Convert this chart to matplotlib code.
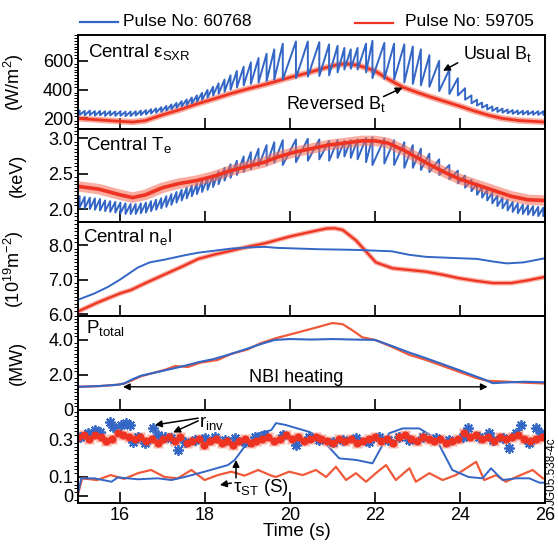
import numpy as np
import matplotlib
matplotlib.use('Agg')
import matplotlib.pyplot as plt
from matplotlib.lines import Line2D
from matplotlib.ticker import MultipleLocator

plt.rcParams['font.family'] = ['Liberation Sans', 'DejaVu Sans']
plt.rcParams['mathtext.default'] = 'regular'

BLUE = '#3466c6'
RED = '#ee3322'
HALO = '#f36a52'

# ---- sawtooth crash times (pulse 60768, usual Bt) ----
crash_t = [15.05, 15.17, 15.29, 15.41, 15.53, 15.65, 15.77, 15.89, 16.01, 16.13,
           16.25, 16.37, 16.49, 16.61, 16.73, 16.85, 16.97, 17.09, 17.21, 17.33,
           17.45, 17.57, 17.69, 17.81, 17.93, 18.06, 18.19, 18.32, 18.46, 18.60,
           18.75, 18.91, 19.08, 19.26, 19.45, 19.63, 19.83, 20.14, 20.42, 20.69,
           20.92, 21.12, 21.28, 21.43, 21.59, 21.79, 21.94, 22.22, 22.45, 22.69,
           22.89, 23.08, 23.28, 23.51, 23.75, 23.95, 24.12, 24.27, 24.40, 24.52,
           24.64, 24.76, 24.88, 25.00, 25.12, 25.24, 25.36, 25.48, 25.60, 25.72,
           25.84, 25.96]

# central SXR emissivity, blue: value before / after each crash
sxr_peak = [255, 252, 254, 250, 252, 249, 251, 248, 250, 247,
            248, 250, 254, 258, 264, 270, 278, 287, 297, 308,
            320, 332, 345, 360, 378, 398, 420, 444, 470, 500,
            530, 560, 590, 620, 650, 680, 720, 735, 735, 730,
            715, 705, 690, 680, 690, 720, 740, 725, 720, 715,
            700, 680, 640, 600, 540, 480, 410, 360, 330, 310,
            295, 283, 275, 268, 262, 258, 255, 253, 252, 250,
            250, 250]
sxr_trough = [225, 222, 224, 220, 222, 218, 221, 218, 218, 216,
              217, 220, 224, 228, 234, 240, 246, 255, 264, 274,
              284, 294, 305, 317, 330, 345, 360, 372, 385, 400,
              415, 430, 440, 450, 460, 470, 470, 480, 490, 495,
              500, 520, 540, 545, 540, 520, 480, 475, 470, 450,
              440, 430, 420, 390, 370, 360, 330, 305, 290, 275,
              262, 252, 245, 240, 236, 232, 230, 228, 227, 226,
              225, 225]

# SXR, red (pulse 59705, reversed Bt)
sxr_red_t = [15.0, 15.5, 16.0, 16.3, 16.6, 17.0, 17.4, 17.8, 18.2, 18.6, 19.0, 19.4,
             19.7, 20.0, 20.4, 20.8, 21.1, 21.3, 21.6, 22.0, 22.3, 22.65, 23.0, 23.3,
             23.6, 24.0, 24.3, 24.7, 25.0, 25.4, 26.0]
sxr_red = [200, 190, 180, 175, 185, 225, 260, 300, 335, 372, 405, 435,
           460, 485, 515, 550, 572, 580, 570, 530, 475, 418, 380, 350,
           322, 285, 255, 220, 200, 185, 175]

# central Te, blue: before / after each crash
te_peak = [2.18, 2.17, 2.16, 2.15, 2.14, 2.12, 2.11, 2.10, 2.09, 2.08,
           2.07, 2.07, 2.08, 2.09, 2.11, 2.13, 2.15, 2.18, 2.21, 2.24,
           2.27, 2.30, 2.33, 2.36, 2.40, 2.44, 2.48, 2.53, 2.58, 2.63,
           2.68, 2.74, 2.80, 2.85, 2.90, 2.94, 2.97, 2.98, 2.99, 2.98,
           2.96, 2.97, 2.96, 2.97, 2.98, 3.00, 3.01, 2.99, 2.97, 2.94,
           2.90, 2.85, 2.78, 2.70, 2.62, 2.54, 2.47, 2.41, 2.36, 2.31,
           2.27, 2.23, 2.19, 2.16, 2.13, 2.10, 2.08, 2.06, 2.05, 2.04,
           2.03, 2.02]
te_trough = [2.02, 2.01, 2.00, 1.99, 1.98, 1.97, 1.96, 1.95, 1.94, 1.93,
             1.93, 1.93, 1.94, 1.95, 1.97, 1.99, 2.01, 2.03, 2.06, 2.09,
             2.12, 2.15, 2.18, 2.21, 2.24, 2.27, 2.31, 2.35, 2.40, 2.44,
             2.48, 2.52, 2.56, 2.60, 2.62, 2.65, 2.62, 2.66, 2.68, 2.70,
             2.68, 2.72, 2.74, 2.72, 2.70, 2.66, 2.62, 2.64, 2.62, 2.58,
             2.58, 2.55, 2.52, 2.48, 2.42, 2.36, 2.30, 2.25, 2.20, 2.16,
             2.12, 2.08, 2.04, 2.01, 1.98, 1.96, 1.94, 1.93, 1.92, 1.91,
             1.90, 1.90]

te_red_t = [15.0, 15.5, 16.0, 16.3, 16.6, 17.0, 17.4, 17.8, 18.2, 18.6, 19.0, 19.4,
            19.7, 20.1, 20.5, 20.9, 21.3, 21.7, 22.0, 22.3, 22.7, 23.0, 23.3, 23.7,
            24.0, 24.4, 24.8, 25.2, 25.6, 26.0]
te_red = [2.32, 2.28, 2.20, 2.16, 2.20, 2.30, 2.36, 2.40, 2.46, 2.54, 2.60, 2.66,
          2.73, 2.80, 2.85, 2.90, 2.93, 2.96, 2.96, 2.93, 2.82, 2.72, 2.62, 2.50,
          2.42, 2.34, 2.26, 2.18, 2.13, 2.12]

# line integrated density
ne_blue_t = [15.0, 15.4, 15.72, 16.0, 16.42, 16.7, 17.05, 17.5, 17.84, 18.3, 18.62,
             19.0, 19.4, 19.7, 20.2, 20.7, 21.2, 21.6, 22.0, 22.4, 22.8, 23.2, 23.6,
             24.0, 24.4, 24.8, 25.1, 25.5, 26.0]
ne_blue = [6.41, 6.60, 6.79, 7.00, 7.35, 7.50, 7.58, 7.70, 7.78, 7.85, 7.90,
           7.93, 7.95, 7.92, 7.90, 7.88, 7.87, 7.86, 7.84, 7.82, 7.72, 7.66, 7.64,
           7.62, 7.60, 7.52, 7.47, 7.50, 7.62]
ne_red_t = [15.0, 15.5, 16.0, 16.26, 16.6, 17.05, 17.5, 17.84, 18.2, 18.62, 19.0,
            19.4, 19.67, 20.0, 20.4, 20.85, 21.05, 21.24, 21.55, 21.8, 22.02, 22.41,
            22.8, 23.2, 23.6, 23.98, 24.4, 24.77, 25.2, 25.6, 26.0]
ne_red = [6.07, 6.35, 6.60, 6.70, 6.90, 7.15, 7.40, 7.60, 7.72, 7.84, 7.95,
          8.05, 8.14, 8.25, 8.36, 8.48, 8.49, 8.44, 8.14, 7.80, 7.50, 7.33,
          7.28, 7.23, 7.14, 7.04, 6.96, 6.90, 6.90, 6.98, 7.08]

# total heating power
p_blue_t = [15.0, 15.5, 15.95, 16.1, 16.3, 16.5, 17.05, 17.5, 17.84, 18.2, 18.62,
            19.0, 19.3, 19.64, 20.0, 20.5, 21.0, 21.5, 22.0, 22.4, 22.8, 23.2, 23.6,
            24.0, 24.38, 24.6, 24.77, 25.0, 25.5, 26.0]
p_blue = [1.31, 1.35, 1.43, 1.50, 1.75, 1.95, 2.25, 2.50, 2.72, 2.90, 3.20,
          3.50, 3.75, 4.00, 4.05, 4.02, 4.05, 4.02, 4.00, 3.65, 3.28, 2.95, 2.60,
          2.25, 1.90, 1.70, 1.52, 1.55, 1.60, 1.57]
p_red_t = [15.0, 15.5, 15.95, 16.1, 16.3, 16.5, 17.05, 17.3, 17.6, 17.9, 18.3, 18.62,
           19.0, 19.3, 19.67, 20.14, 20.6, 21.0, 21.24, 21.5, 21.7, 22.0, 22.4, 22.8,
           23.2, 23.6, 24.0, 24.38, 24.65, 25.0, 25.5, 26.0]
p_red = [1.31, 1.35, 1.43, 1.50, 1.70, 1.92, 2.28, 2.50, 2.45, 2.70, 2.85, 3.20,
         3.45, 3.80, 4.10, 4.40, 4.70, 4.97, 4.90, 4.50, 4.15, 4.00, 3.60, 3.15,
         2.85, 2.50, 2.15, 1.82, 1.65, 1.62, 1.55, 1.50]

# inversion radius
rinv_blue_t = [15.05, 15.25, 15.40, 15.52, 15.76, 15.84, 16.03, 16.15, 16.23, 16.31,
               16.42, 16.58, 16.78, 16.89, 17.05, 17.21, 17.36, 17.52, 17.76, 17.99,
               18.23, 18.46, 18.70, 18.93, 19.17, 19.40, 19.83, 20.14, 20.45, 20.69,
               21.00, 21.24, 21.55, 21.87, 22.10, 22.30, 22.57, 22.81, 23.12, 23.43,
               23.75, 24.06, 24.18, 24.45, 24.69, 24.77, 25.00, 25.16, 25.32, 25.43,
               25.63, 25.79, 25.90]
rinv_blue = [0.312, 0.330, 0.347, 0.338, 0.391, 0.365, 0.374, 0.383, 0.374, 0.286,
             0.312, 0.277, 0.356, 0.321, 0.312, 0.304, 0.242, 0.286, 0.295, 0.304,
             0.312, 0.295, 0.304, 0.286, 0.312, 0.321, 0.321, 0.268, 0.312, 0.295,
             0.286, 0.295, 0.304, 0.286, 0.312, 0.295, 0.312, 0.295, 0.312, 0.304,
             0.295, 0.312, 0.356, 0.312, 0.330, 0.295, 0.304, 0.251, 0.330, 0.374,
             0.277, 0.356, 0.330]
rinv_red_t = [15.02, 15.15, 15.28, 15.40, 15.55, 15.68, 15.80, 15.95, 16.08, 16.20,
              16.35, 16.48, 16.62, 16.75, 16.90, 17.02, 17.15, 17.30, 17.42, 17.58,
              17.70, 17.85, 17.98, 18.12, 18.25, 18.40, 18.52, 18.66, 18.80, 18.93,
              19.08, 19.20, 19.35, 19.48, 19.62, 19.76, 19.90, 20.05, 20.18, 20.32,
              20.46, 20.60, 20.74, 20.88, 21.02, 21.15, 21.30, 21.44, 21.58, 21.72,
              21.86, 22.00, 22.14, 22.28, 22.42, 22.56, 22.70, 22.84, 22.98, 23.12,
              23.26, 23.40, 23.54, 23.68, 23.82, 23.96, 24.10, 24.24, 24.38, 24.52,
              24.66, 24.80, 24.94, 25.08, 25.22, 25.36, 25.50, 25.64, 25.78, 25.92]
rinv_red = [0.31, 0.32, 0.30, 0.32, 0.31, 0.29, 0.30, 0.33, 0.32, 0.31,
            0.30, 0.31, 0.29, 0.30, 0.28, 0.30, 0.31, 0.29, 0.31, 0.28,
            0.29, 0.30, 0.27, 0.29, 0.30, 0.28, 0.29, 0.27, 0.29, 0.30,
            0.28, 0.29, 0.30, 0.31, 0.29, 0.30, 0.32, 0.30, 0.31, 0.29,
            0.30, 0.31, 0.30, 0.29, 0.28, 0.30, 0.29, 0.30, 0.28, 0.29,
            0.30, 0.31, 0.29, 0.30, 0.28, 0.31, 0.32, 0.30, 0.29, 0.31,
            0.30, 0.29, 0.30, 0.28, 0.29, 0.30, 0.33, 0.31, 0.32, 0.30,
            0.31, 0.29, 0.31, 0.30, 0.31, 0.32, 0.30, 0.29, 0.30, 0.31]

# sawtooth period
tau_blue_t = [15.0, 15.09, 15.4, 15.8, 15.95, 16.42, 16.89, 17.21, 17.52, 17.99, 18.54,
              18.70, 18.93, 19.25, 19.56, 19.67, 19.90, 20.45, 20.69, 21.16, 21.55,
              21.94, 22.33, 22.65, 23.04, 23.43, 23.82, 24.20, 24.53, 24.73, 25.00,
              25.32, 25.63, 25.87, 26.0]
tau_blue = [0.0, 0.093, 0.093, 0.075, 0.098, 0.088, 0.093, 0.084, 0.100, 0.128, 0.163,
            0.190, 0.260, 0.330, 0.347, 0.384, 0.374, 0.338, 0.312, 0.198, 0.190,
            0.172, 0.330, 0.356, 0.356, 0.304, 0.137, 0.100, 0.093, 0.146, 0.084,
            0.093, 0.093, 0.070, 0.070]
tau_red_t = [15.0, 15.11, 15.46, 15.78, 16.10, 16.42, 16.73, 17.05, 17.36, 17.68, 17.99,
             18.30, 18.62, 18.93, 19.25, 19.56, 19.67, 19.98, 20.30, 20.61, 20.85,
             21.08, 21.32, 21.55, 21.79, 22.02, 22.26, 22.49, 22.81, 22.96, 23.28,
             23.59, 23.90, 24.38, 24.57, 24.85, 25.08, 25.32, 25.71, 25.95]
tau_red = [0.0, 0.093, 0.084, 0.110, 0.090, 0.120, 0.137, 0.100, 0.093, 0.137, 0.084,
           0.110, 0.128, 0.107, 0.137, 0.107, 0.100, 0.128, 0.110, 0.137, 0.100,
           0.154, 0.084, 0.120, 0.075, 0.120, 0.163, 0.084, 0.146, 0.075, 0.120,
           0.084, 0.110, 0.180, 0.084, 0.110, 0.075, 0.100, 0.137, 0.093]

xticks = [16, 18, 20, 22, 24, 26]
ylims = [(130, 780), (1.817, 3.134), (5.96, 8.67), (-0.02, 5.4), (-0.037, 0.453)]
yticks = [[200, 400, 600], [2.0, 2.5, 3.0], [6.0, 7.0, 8.0], [0, 2.0, 4.0], [0, 0.1, 0.3]]
ytlabels = [['200', '400', '600'], ['2.0', '2.5', '3.0'], ['6.0', '7.0', '8.0'],
            ['0', '2.0', '4.0'], ['0', '0.1', '0.3']]
yminor = [20, 0.05, 0.1, 0.2, 0.02]
ylabels = ['(W/m$^2$)', '(keV)', '(10$^{19}$m$^{-2}$)', '(MW)', '']


def sawtooth(t0, v0, ts, peaks, troughs, t1, v1):
    xs, ys = [t0], [v0]
    for t, p, q in zip(ts, peaks, troughs):
        xs += [t, t]
        ys += [p, q]
    xs.append(t1)
    ys.append(v1)
    return xs, ys


W, H = 558, 546
fig = plt.figure(figsize=(W / 100, H / 100), dpi=100)
L, R = 77.5, 545
edges = [35, 128.5, 222, 315.5, 410, 503]
axes = []
for i in range(5):
    top, bot = edges[i], edges[i + 1]
    ax = fig.add_axes([L / W, 1 - bot / H, (R - L) / W, (bot - top) / H])
    ax.set_xlim(15, 26)
    ax.set_ylim(*ylims[i])
    ax.set_xticks(xticks)
    ax.set_yticks(yticks[i])
    ax.set_yticklabels(ytlabels[i])
    ax.yaxis.set_minor_locator(MultipleLocator(yminor[i]))
    ax.tick_params(axis='both', which='major', direction='in', length=7, width=1.2,
                   labelsize=13, pad=3)
    ax.tick_params(axis='y', which='minor', direction='out', length=3, width=0.7)
    ax.tick_params(axis='x', which='major', length=8)
    if i < 4:
        ax.tick_params(axis='x', labelbottom=False)
    for s in ax.spines.values():
        s.set_linewidth(1.4)
    if ylabels[i]:
        ax.set_ylabel(ylabels[i], fontsize=13)
        ax.yaxis.set_label_coords(-0.11, 0.5)
    axes.append(ax)

ax1, ax2, ax3, ax4, ax5 = axes


def fuzzy(ax, t, v, halo_w, core_w):
    ax.plot(t, v, color=HALO, lw=halo_w, alpha=0.55, solid_joinstyle='round')
    ax.plot(t, v, color=RED, lw=core_w)


# panel 1 : SXR emissivity
fuzzy(ax1, sxr_red_t, sxr_red, 4.5, 2.0)
bx, by = sawtooth(15.0, 232, crash_t, sxr_peak, sxr_trough, 26.0, 228)
ax1.plot(bx, by, color=BLUE, lw=1.4)
ax1.text(0.023, 0.82, 'Central ε$_{SXR}$', transform=ax1.transAxes, fontsize=13.5,
         va='center')
ax1.annotate('Usual B$_t$', xy=(23.6, 531), xytext=(24.07, 648), fontsize=13,
             va='center', ha='left',
             arrowprops=dict(arrowstyle='-|>', color='k', lw=1.1, mutation_scale=10,
                             shrinkA=2, shrinkB=0, relpos=(0, 0.2)))
ax1.text(19.9, 303, 'Reversed B$_t$', fontsize=13, va='center', ha='left')
ax1.annotate('', xy=(22.65, 414), xytext=(22.2, 352),
             arrowprops=dict(arrowstyle='-|>', color='k', lw=1.1, mutation_scale=10,
                             shrinkA=0, shrinkB=0))

# panel 2 : Te
bx, by = sawtooth(15.0, 2.05, crash_t, te_peak, te_trough, 26.0, 1.92)
ax2.plot(bx, by, color=BLUE, lw=1.4)
fuzzy(ax2, te_red_t, te_red, 7.5, 2.6)
ax2.text(0.018, 0.82, 'Central T$_e$', transform=ax2.transAxes, fontsize=13.5,
         va='center')

# panel 3 : density
fuzzy(ax3, ne_red_t, ne_red, 3.5, 1.6)
ax3.plot(ne_blue_t, ne_blue, color=BLUE, lw=1.4)
ax3.text(0.012, 0.84, 'Central n$_e$l', transform=ax3.transAxes, fontsize=13.5,
         va='center')

# panel 4 : power
ax4.plot(p_red_t, p_red, color='#f05a3a', lw=1.6)
ax4.plot(p_blue_t, p_blue, color=BLUE, lw=1.5)
ax4.text(0.018, 0.87, 'P$_{total}$', transform=ax4.transAxes, fontsize=13.5,
         va='center')
ax4.annotate('', xy=(24.65, 1.31), xytext=(16.07, 1.31),
             arrowprops=dict(arrowstyle='<|-|>', color='k', lw=1.0, mutation_scale=10,
                             shrinkA=0, shrinkB=0))
ax4.text(20.15, 1.83, 'NBI heating', fontsize=13, ha='center', va='center')

# panel 5 : inversion radius and sawtooth period
ax5.plot(tau_red_t, tau_red, color='#f05a3a', lw=1.6)
ax5.plot(tau_blue_t, tau_blue, color=BLUE, lw=1.4)
ax5.plot(rinv_red_t, rinv_red, ls='none', marker='s', ms=6.5, mfc='#f7a494', mec='none',
         alpha=0.8)
ax5.plot(rinv_blue_t, rinv_blue, ls='none', marker=(8, 2, 0), ms=7.5, mec=BLUE, mew=1.3)
ax5.plot(rinv_red_t, rinv_red, ls='none', marker=(8, 2, 0), ms=5.5, mec=RED, mew=1.4)

ax5.text(17.86, 0.385, 'r$_{inv}$', fontsize=13.5, va='center', ha='left')
arrow = dict(arrowstyle='-|>', color='k', lw=1.1, mutation_scale=10, shrinkA=0, shrinkB=0)
ax5.annotate('', xy=(16.82, 0.374), xytext=(17.84, 0.41), arrowprops=arrow)
ax5.annotate('', xy=(17.25, 0.335), xytext=(17.84, 0.396), arrowprops=arrow)
ax5.text(18.66, 0.045, 'τ$_{ST}$ (S)', fontsize=13.5, va='center', ha='left')
ax5.annotate('', xy=(18.73, 0.19), xytext=(18.73, 0.095), arrowprops=arrow)
ax5.annotate('', xy=(18.35, 0.058), xytext=(18.62, 0.068), arrowprops=arrow)

# legend at the top
fig.add_artist(Line2D([80 / W, 118 / W], [1 - 22 / H, 1 - 22 / H], color=BLUE, lw=1.6))
fig.text(123 / W, 1 - 21 / H, 'Pulse No: 60768', fontsize=12.5, va='center')
fig.add_artist(Line2D([355 / W, 393 / W], [1 - 23 / H, 1 - 23 / H], color=RED, lw=1.6))
fig.text(405 / W, 1 - 21 / H, 'Pulse No: 59705', fontsize=12.5, va='center')

fig.text(297 / W, 1 - 531 / H, 'Time (s)', fontsize=13.5, ha='center', va='center')
fig.text(551.5 / W, 1 - 471 / H, 'JG05.538-4c', fontsize=8.5, rotation=90,
         ha='center', va='center')

fig.savefig('out.png', dpi=100)
